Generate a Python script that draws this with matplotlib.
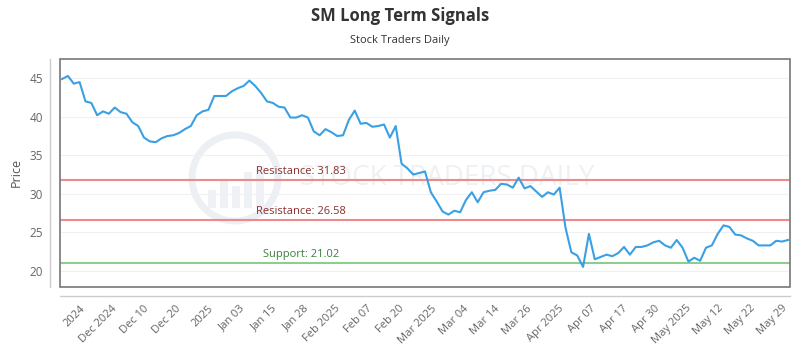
import numpy as np
import matplotlib
matplotlib.use('Agg')
import matplotlib.pyplot as plt
from matplotlib.patches import Circle, Rectangle

# closing prices, one per trading day
prices = [44.9, 45.3, 44.3, 44.5, 42.0, 41.8, 40.2, 40.7, 40.4, 41.2,
          40.6, 40.4, 39.3, 38.8, 37.3, 36.8, 36.7, 37.2, 37.5, 37.6,
          37.9, 38.4, 38.8, 40.2, 40.7, 40.9, 42.7, 42.7, 42.7, 43.3,
          43.7, 44.0, 44.7, 44.0, 43.1, 42.0, 41.8, 41.3, 41.2, 39.9,
          39.9, 40.2, 39.9, 38.1, 37.6, 38.4, 38.0, 37.5, 37.6, 39.6,
          40.8, 39.1, 39.2, 38.7, 38.8, 39.0, 37.3, 38.8, 33.9, 33.3,
          32.5, 32.7, 32.9, 30.2, 29.0, 27.7, 27.3, 27.8, 27.6, 29.2,
          30.2, 28.9, 30.2, 30.4, 30.5, 31.3, 31.2, 30.8, 32.1, 30.7,
          31.0, 30.3, 29.6, 30.2, 29.9, 30.8, 25.6, 22.4, 22.0, 20.5,
          24.8, 21.5, 21.8, 22.1, 21.9, 22.3, 23.1, 22.1, 23.1, 23.1,
          23.3, 23.7, 23.9, 23.3, 23.0, 24.0, 23.0, 21.2, 21.7, 21.3,
          23.0, 23.3, 24.8, 25.9, 25.7, 24.7, 24.6, 24.2, 23.9, 23.3,
          23.3, 23.3, 23.9, 23.8, 24.0]

tick_labels = ['2024', 'Dec 2024', 'Dec 10', 'Dec 20', '2025', 'Jan 03',
               'Jan 15', 'Jan 28', 'Feb 2025', 'Feb 07', 'Feb 20',
               'Mar 2025', 'Mar 04', 'Mar 14', 'Mar 26', 'Apr 2025',
               'Apr 07', 'Apr 17', 'Apr 30', 'May 2025', 'May 12',
               'May 22', 'May 29']

levels = [31.83, 26.58, 21.02]
level_names = ['Resistance', 'Resistance', 'Support']
line_colors = ['#f08a8a', '#f08a8a', '#8fcc8f']
text_colors = ['#8b2e2e', '#8b2e2e', '#3d7f3d']

plt.rcParams['font.family'] = ['Open Sans', 'DejaVu Sans']

fig = plt.figure(figsize=(8, 3.5), dpi=100)
ax = fig.add_axes([0.075, 0.18, 0.9125, 0.6514])

# offset light axis lines (set first: moving a spine resets the ticks)
for side in ['top', 'right']:
    ax.spines[side].set_visible(False)
ax.spines['left'].set_position(('outward', 7))
ax.spines['bottom'].set_position(('outward', 6.5))
for side in ['left', 'bottom']:
    ax.spines[side].set_color('#cccccc')
    ax.spines[side].set_linewidth(1)

# faint watermark
fig.add_artist(Circle((2.35, 1.72), 0.43, transform=fig.dpi_scale_trans,
                      facecolor='none', edgecolor='#eceff3', lw=5, zorder=0))
for bx, bh in zip([2.08, 2.2, 2.32, 2.44, 2.56], [0.18, 0.28, 0.22, 0.36, 0.42]):
    fig.add_artist(Rectangle((bx, 1.42), 0.08, bh, transform=fig.dpi_scale_trans,
                             facecolor='#eef1f5', edgecolor='none', zorder=0))
ax.text(0.53, 0.478, 'STOCK TRADERS DAILY', transform=ax.transAxes,
        ha='center', va='center', fontsize=20, color='#eef1f4', zorder=0)
ax.set_facecolor('none')

x = np.arange(len(prices))
ax.plot(x, prices, color='#3aa0e4', lw=1.5, zorder=3)

for lvl, name, lc, tc in zip(levels, level_names, line_colors, text_colors):
    ax.axhline(lvl, color=lc, lw=1.5, zorder=2)
    ax.annotate('%s: %.2f' % (name, lvl), xy=(0.33, lvl),
                xycoords=('axes fraction', 'data'), xytext=(0, 2),
                textcoords='offset points', ha='center', va='bottom',
                fontsize=8, color=tc, zorder=4)

ax.set_xlim(-0.35, len(prices) - 0.65)
ax.set_ylim(17.9, 47.5)
ax.set_yticks([20, 25, 30, 35, 40, 45])
ax.set_xticks(np.linspace(3.0, 123.0, len(tick_labels)))
ax.set_xticklabels(tick_labels, rotation=45, ha='right', va='top',
                   rotation_mode='anchor')
ax.tick_params(axis='x', length=0, pad=5, labelsize=8, labelcolor='#666666')
ax.tick_params(axis='y', length=0, pad=5, labelsize=8.5, labelcolor='#666666')
ax.grid(axis='y', color='#f0f0f0', lw=0.8, zorder=0)
ax.set_axisbelow(True)

# dark plot frame
ax.add_patch(Rectangle((0, 0), 1, 1, transform=ax.transAxes, fill=False,
                       edgecolor='#777777', lw=1.2, zorder=5, clip_on=False))

fig.text(0.02, 0.506, 'Price', rotation=90, ha='center', va='center',
         fontsize=9, color='#555555')
fig.text(0.5, 0.955, 'SM Long Term Signals', ha='center', va='center',
         fontsize=12, fontweight='bold', color='#333333')
fig.text(0.5, 0.885, 'Stock Traders Daily', ha='center', va='center',
         fontsize=8, color='#333333')

fig.savefig('out.png', dpi=100)
